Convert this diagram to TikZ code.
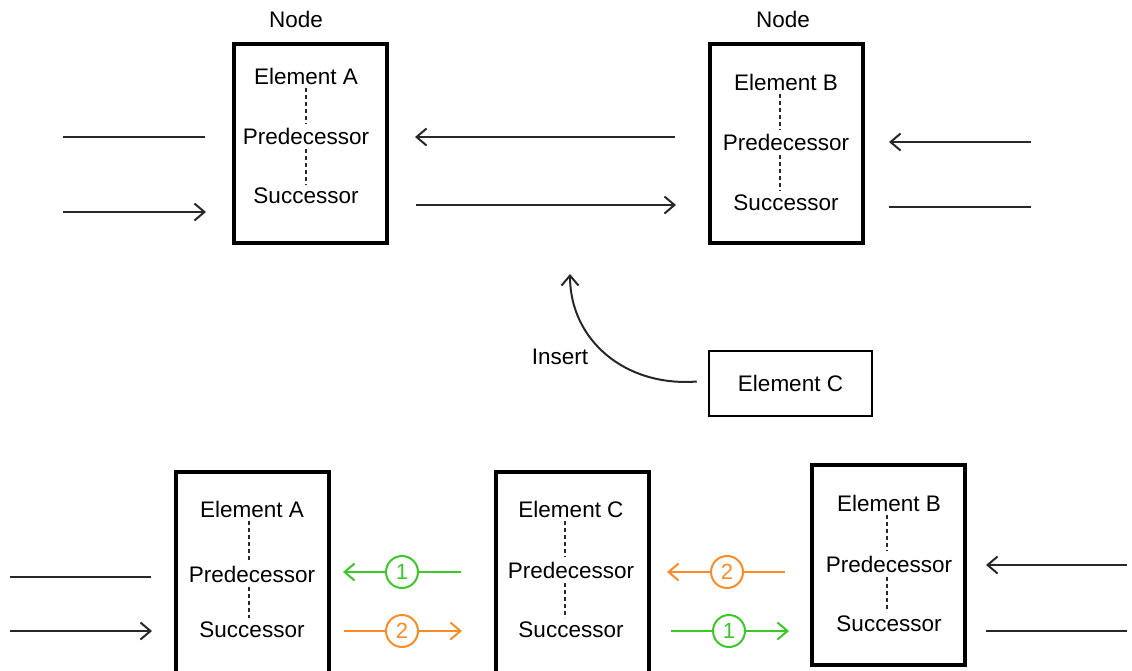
\documentclass[tikz,border=0pt]{standalone}
\usepackage{fontspec}
\setmainfont{Liberation Sans}
\usetikzlibrary{arrows.meta}
\definecolor{lgreen}{RGB}{60,200,40}
\definecolor{lorange}{RGB}{250,140,40}
\definecolor{lnk}{RGB}{40,40,40}
\begin{document}
\begin{tikzpicture}[x=1pt,y=-1pt,
  txt/.style={font=\fontsize{22.5}{26}\selectfont, inner sep=0pt, anchor=center},
  bigbox/.style={draw=black, line width=4pt, minimum width=153pt, minimum height=199pt, inner sep=0pt},
  cbox/.style={draw=black, line width=2.5pt, minimum width=163pt, minimum height=65pt, inner sep=0pt, font=\fontsize{22.5}{26}\selectfont},
  dotln/.style={dash pattern=on 4pt off 3pt, line width=1.2pt, draw=lnk},
  conn/.style={line width=2pt, draw=lnk},
  arr/.style={conn, -{Straight Barb[length=10pt,width=17pt,line width=2pt]}},
  num/.style={circle, draw, line width=2pt, minimum size=32pt, inner sep=0pt, fill=white, font=\fontsize{22}{26}\selectfont},
  garr/.style={line width=2pt, draw=lgreen, -{Straight Barb[length=10pt,width=17pt,line width=2pt]}},
  oarr/.style={line width=2pt, draw=lorange, -{Straight Barb[length=10pt,width=17pt,line width=2pt]}}
]
\useasboundingbox (0,0) rectangle (1132,670);
% ===== top =====
\node[bigbox] (boxA) at (310.5,143.5) {};
\node[bigbox] (boxB) at (786.5,143.5) {};
\node[txt] (nodeA) at (296,19) {Node};
\node[txt] (nodeB) at (783,19) {Node};
\node[txt] (aE) at (306,76) {Element A};
\node[txt] (aP) at (306,136) {Predecessor};
\node[txt] (aS) at (306,196) {Successor};
\draw[dotln] (306,88) -- (306,124);
\draw[dotln] (306,149) -- (306,185);
\node[txt] (bE) at (786,82) {Element B};
\node[txt] (bP) at (786,142) {Predecessor};
\node[txt] (bS) at (786,203) {Successor};
\draw[dotln] (780,94) -- (780,130);
\draw[dotln] (780,155) -- (780,191);
% connectors top
\coordinate (t1a) at (63,137); \coordinate (t1b) at (205,137);
\coordinate (t2a) at (63,212); \coordinate (t2b) at (206,212);
\coordinate (t3a) at (675,137); \coordinate (t3b) at (415,137);
\coordinate (t4a) at (416,205); \coordinate (t4b) at (676,205);
\coordinate (t5a) at (1031,142); \coordinate (t5b) at (889,142);
\coordinate (t6a) at (889,207); \coordinate (t6b) at (1031,207);
\draw[conn] (t1a) -- (t1b);
\draw[arr] (t2a) -- (t2b);
\draw[arr] (t3a) -- (t3b);
\draw[arr] (t4a) -- (t4b);
\draw[arr] (t5a) -- (t5b);
\draw[conn] (t6a) -- (t6b);
% element C and insert
\node[cbox] (elC) at (790.5,383.5) {Element C};
\coordinate (insEnd) at (570,274);
\draw[arr] (elC.west) ++(-11,-2) coordinate (insStart) .. controls (625,387) and (570,340) .. (insEnd);
\node[txt] (ins) at (560,357) {Insert};
% ===== bottom =====
\node[bigbox, minimum height=210pt] (b1) at (252.5,577) {};
\node[bigbox, minimum height=210pt] (b2) at (572,577) {};
\node[bigbox, minimum height=200pt] (b3) at (888.5,565) {};
\node[txt] (b1E) at (252,509) {Element A};
\node[txt] (b1P) at (252,574) {Predecessor};
\node[txt] (b1S) at (252,630) {Successor};
\draw[dotln] (249,521) -- (249,561);
\draw[dotln] (249,587) -- (249,618);
\node[txt] (b2E) at (571,509) {Element C};
\node[txt] (b2P) at (571,570) {Predecessor};
\node[txt] (b2S) at (571,630) {Successor};
\draw[dotln] (565,521) -- (565,557);
\draw[dotln] (565,583) -- (565,618);
\node[txt] (b3E) at (889,503) {Element B};
\node[txt] (b3P) at (889,564) {Predecessor};
\node[txt] (b3S) at (889,624) {Successor};
\draw[dotln] (887,515) -- (887,551);
\draw[dotln] (887,577) -- (887,612);
% bottom connectors
\coordinate (u1a) at (10,577); \coordinate (u1b) at (151,577);
\coordinate (u2a) at (10,631); \coordinate (u2b) at (152,631);
\draw[conn] (u1a) -- (u1b);
\draw[arr] (u2a) -- (u2b);
\coordinate (g1a) at (461,572); \coordinate (g1b) at (343,572);
\draw[garr] (g1a) -- (g1b);
\node[num, draw=lgreen, text=lgreen] (n1) at (402,572) {1};
\coordinate (o1a) at (344,631); \coordinate (o1b) at (462,631);
\draw[oarr] (o1a) -- (o1b);
\node[num, draw=lorange, text=lorange] (n2) at (402,631) {2};
\coordinate (o2a) at (785,572); \coordinate (o2b) at (667,572);
\draw[oarr] (o2a) -- (o2b);
\node[num, draw=lorange, text=lorange] (n3) at (727,572) {2};
\coordinate (g2a) at (671,631); \coordinate (g2b) at (789,631);
\draw[garr] (g2a) -- (g2b);
\node[num, draw=lgreen, text=lgreen] (n4) at (729,631) {1};
\coordinate (u3a) at (1127,565); \coordinate (u3b) at (986,565);
\coordinate (u4a) at (986,631); \coordinate (u4b) at (1127,631);
\draw[arr] (u3a) -- (u3b);
\draw[conn] (u4a) -- (u4b);
\end{tikzpicture}
\end{document}
